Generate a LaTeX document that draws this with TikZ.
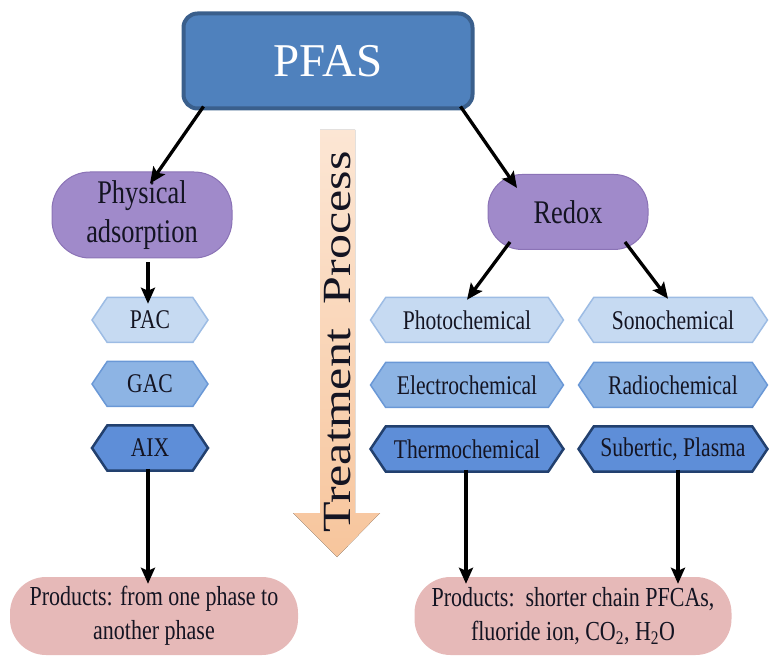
\documentclass[tikz,border=0pt]{standalone}
\usepackage{fontspec}
\setmainfont{Liberation Serif}
\newfontfamily\cfont{Liberation Serif}[FakeStretch=0.8]
\usetikzlibrary{shapes.symbols,arrows.meta}
\definecolor{pfasfill}{HTML}{4F81BD}
\definecolor{pfasline}{HTML}{3A5F8C}
\definecolor{purpfill}{HTML}{A08ACA}
\definecolor{purpline}{HTML}{8B73B6}
\definecolor{hexAf}{HTML}{C6DAF2}
\definecolor{hexAl}{HTML}{9DBCE4}
\definecolor{hexBf}{HTML}{8DB4E4}
\definecolor{hexBl}{HTML}{6A98D6}
\definecolor{hexCf}{HTML}{5E8ED8}
\definecolor{hexCl}{HTML}{22406E}
\definecolor{pinkfill}{HTML}{E6B9B8}
\definecolor{txt}{HTML}{141422}
\definecolor{peachA}{HTML}{FCE6D4}
\definecolor{peachB}{HTML}{F7C59C}
\tikzset{
  arr/.style={line width=3.3pt, -{Stealth[length=16pt,width=14pt,inset=3pt]}, black},
  pill/.style={rectangle, draw=purpline, line width=1pt, fill=purpfill, text=txt, align=center, font=\cfont\fontsize{33}{39}\selectfont},
  prod/.style={rectangle, rounded corners=36pt, fill=pinkfill, text=txt, align=center, minimum height=78pt, font=\cfont\fontsize{27.5}{34}\selectfont},
  hex/.style={shape=signal, signal to=west and east, signal pointer angle=112, minimum height=45pt, inner sep=0pt, text=txt, font=\cfont\fontsize{27}{30}\selectfont},
  hexA/.style={hex, fill=hexAf, draw=hexAl, line width=1.5pt},
  hexB/.style={hex, fill=hexBf, draw=hexBl, line width=1.5pt},
  hexC/.style={hex, fill=hexCf, draw=hexCl, line width=2.5pt},
}
\begin{document}
\begin{tikzpicture}[x=1pt,y=-1pt]
\useasboundingbox (0,0) rectangle (769,660);
% treatment process arrow
\fill[top color=peachA, bottom color=peachB] (320,130) -- (355,130) -- (355,513) -- (380,513) -- (337,557) -- (293,513) -- (320,513) -- cycle;
\node[rotate=90, text=txt, font=\fontsize{50}{56}\selectfont] (tp) at (338,342) {\scalebox{1}[0.8]{Treatment\ \ Process}};
% top
\node[rectangle, rounded corners=14pt, fill=pfasfill, draw=pfasline, line width=4pt, minimum width=289pt, minimum height=95pt, text=white, font=\fontsize{47}{52}\selectfont] (pfas) at (328,61) {PFAS};
\node[pill, rounded corners=38pt, minimum width=180pt, minimum height=86pt] (phys) at (142,215) {Physical\\adsorption};
\node[pill, rounded corners=34pt, minimum width=160pt, minimum height=75pt] (redox) at (568,212) {Redox};
% left hexes
\node[hexA, minimum width=116pt] (pac) at (150,320) {PAC};
\node[hexB, minimum width=116pt] (gac) at (150,384) {GAC};
\node[hexC, minimum width=116pt] (aix) at (150,448) {AIX};
% right hexes
\node[hexA, minimum width=193pt] (photo) at (467,320) {Photochemical};
\node[hexB, minimum width=193pt] (electro) at (467,385) {Electrochemical};
\node[hexC, minimum width=193pt] (thermo) at (467,449) {Thermochemical};
\node[hexA, minimum width=189pt] (sono) at (673,320) {Sonochemical};
\node[hexB, minimum width=189pt] (radio) at (673,385) {Radiochemical};
\node[hexC, minimum width=189pt] (sub) at (673,449) {Subertic, Plasma};
% products
\node[prod, minimum width=288pt] (prodL) at (154,616) {Products: from one phase to\\another phase};
\node[prod, minimum width=317pt] (prodR) at (573,616) {Products:\ \ shorter chain PFCAs,\\fluoride ion, CO\textsubscript{2}, H\textsubscript{2}O};
% arrows
\draw[arr] ([xshift=22pt,yshift=4pt]pfas.south west) -- ([xshift=8pt,yshift=-12pt]phys.north);
\draw[arr] ([xshift=-14pt,yshift=4pt]pfas.south east) -- ([xshift=-51pt,yshift=-14pt]redox.north);
\draw[arr] ([xshift=-2pt]pac.north |- phys.south) ++(0,4) -- ([xshift=-2pt,yshift=-7pt]pac.north);
\draw[arr] ([xshift=-58pt,yshift=8pt]redox.south) -- ([xshift=0pt,yshift=-3pt]photo.north);
\draw[arr] ([xshift=57pt,yshift=8pt]redox.south) -- ([xshift=-5pt,yshift=-2pt]sono.north);
\draw[arr] ([xshift=-2pt,yshift=3pt]aix.south) -- ([xshift=-6pt,yshift=-7pt]prodL.north);
\draw[arr] ([xshift=-1pt,yshift=3pt]thermo.south) -- ([xshift=-107pt,yshift=-7pt]prodR.north);
\draw[arr] ([xshift=5pt,yshift=3pt]sub.south) -- ([xshift=105pt,yshift=-7pt]prodR.north);
\end{tikzpicture}
\end{document}
